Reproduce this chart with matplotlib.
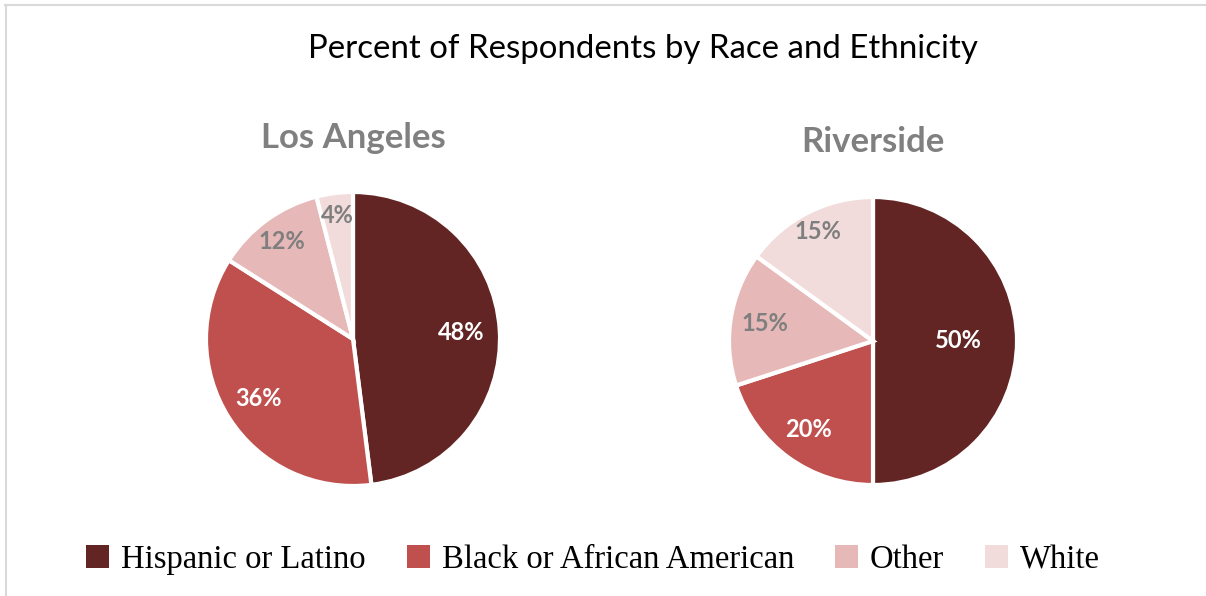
import numpy as np
import matplotlib
matplotlib.use("Agg")
import matplotlib.pyplot as plt
from matplotlib.patches import Patch
from matplotlib.lines import Line2D

# --- datos ---
categorias = ["Hispanic or Latino", "Black or African American", "Other", "White"]
los_angeles = [48, 36, 12, 4]
riverside = [50, 20, 15, 15]
colores = ["#632523", "#C0504D", "#E6B9B8", "#F2DCDB"]
color_etiqueta = ["white", "white", "#7F7F7F", "#7F7F7F"]

W, H = 1206, 596
fig = plt.figure(figsize=(W / 100, H / 100), dpi=100)
fig.patch.set_facecolor("white")

# marco gris (arriba e izquierda)
fig.add_artist(Line2D([5 / W, 1], [1 - 4.5 / H, 1 - 4.5 / H], color="#D9D9D9", lw=1.5))
fig.add_artist(Line2D([5.5 / W, 5.5 / W], [0, 1 - 4.5 / H], color="#D9D9D9", lw=1.5))

fig.text(643 / W, 1 - 49 / H, "Percent of Respondents by Race and Ethnicity",
         ha="center", va="center", fontsize=23.8, family="Lato", color="black")


def graficar_pie(cx, cy, r, valores, titulo, ty, radios):
    lim = 1.02
    ax = fig.add_axes([(cx - r * lim) / W, (H - cy - r * lim) / H,
                       2 * r * lim / W, 2 * r * lim / H])
    wedges, _ = ax.pie(valores, colors=colores, startangle=90, counterclock=False,
                       wedgeprops=dict(edgecolor="white", linewidth=3))
    for w, v, c, rr in zip(wedges, valores, color_etiqueta, radios):
        ang = np.deg2rad((w.theta1 + w.theta2) / 2)
        ax.text(rr * np.cos(ang), rr * np.sin(ang), f"{v}%", ha="center", va="center",
                fontsize=17, fontweight="bold", color=c, family="Lato")
    ax.set_xlim(-lim, lim)
    ax.set_ylim(-lim, lim)
    ax.set_aspect("equal")
    ax.axis("off")
    fig.text(cx / W, 1 - ty / H, titulo, ha="center", va="center", fontsize=25,
             fontweight="bold", color="#808080", family="Lato")


graficar_pie(353, 339, 147, los_angeles, "Los Angeles", 138, [0.74, 0.76, 0.82, 0.85])
graficar_pie(873, 341, 144, riverside, "Riverside", 142, [0.59, 0.76, 0.76, 0.85])

handles = [Patch(facecolor=c, edgecolor="none") for c in colores]
fig.legend(handles, categorias, loc="center", bbox_to_anchor=(593 / W, 1 - 560 / H),
           ncol=4, frameon=False, prop=dict(family="Liberation Serif", size=23.5),
           handlelength=0.7, handleheight=0.7, handletextpad=0.37, columnspacing=1.25)

fig.savefig("out.png", dpi=100, facecolor="white")
